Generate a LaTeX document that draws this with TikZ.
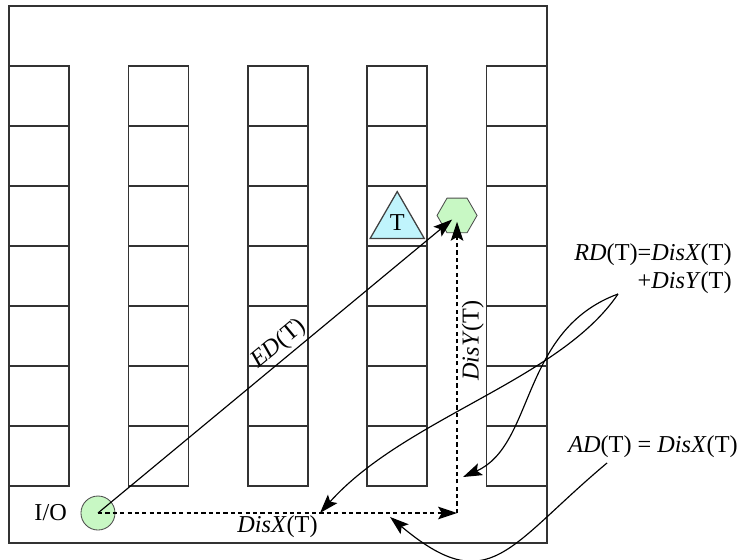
\documentclass[tikz,border=0pt]{standalone}
\usepackage{fontspec}
\setmainfont{Liberation Serif}
\usetikzlibrary{arrows.meta,shapes.geometric,positioning}
\definecolor{slotgreen}{RGB}{200,248,196}
\definecolor{taskcyan}{RGB}{192,244,252}
\tikzset{arrow/.style={draw,-{Stealth[length=9pt,width=6pt,inset=1.8pt]},line width=0.55pt,#1}}
\tikzset{arrow/.default={black}}
\tikzset{route/.style={arrow,dash pattern=on 2pt off 1.5pt}}
\tikzset{rack/.style={draw=black!80,line width=0.75pt}}
\tikzset{font={\fontsize{11.5pt}{13.3pt}\selectfont}}

\begin{document}
\begin{tikzpicture}
        \useasboundingbox (0,0) rectangle (12.283,9.333);
        \draw[rack,line width=0.9pt] (0.15,0.283) rectangle (9.11,9.233);
        \foreach \i in {0,...,4}{
            \foreach \j in {0,...,6}{
                \draw[rack] (0.15+1.99*\i, 1.233+\j) rectangle ++(1,1);
            }
        }
        \node[circle,draw=black!70,fill=slotgreen,minimum size=0.567cm,inner sep=0] (io) at (1.633,0.783) {};
        \node[left=3pt of io] (iolbl) {I/O};
        \node[regular polygon,regular polygon sides=3,draw=black!75,line width=0.6pt,fill=taskcyan,minimum size=1.04cm,inner sep=0] (task) at (6.62,5.62) {T};
        \node[regular polygon,regular polygon sides=6,draw=black!70,fill=slotgreen,minimum size=0.667cm,inner sep=0] (slot) at (7.617,5.742) {};
        \coordinate (bend) at (slot |- io);
        \path[draw,arrow,shorten >=3pt] (io.center) -- node[sloped,above,pos=0.53,inner sep=1.5pt] (edlbl) {\textit{ED}(T)} (slot.center);
        \path[draw,route] (io.center) -- node[below,inner sep=1pt] (disxlbl) {\textit{DisX}(T)} (bend);
        \path[draw,route,shorten >=3pt] (bend) -- node[sloped,below,pos=0.58,inner sep=2pt] (disylbl) {\textit{DisY}(T)} (slot.center);
        \node[align=right] (rdlbl) at (10.883,4.85) {\textit{RD}(T)=\textit{DisX}(T)\\+\textit{DisY}(T)};
        \node (adlbl) at (10.883,1.883) {\textit{AD}(T) = \textit{DisX}(T)};
        \coordinate (rdfoot) at (10.3,4.433);
        \coordinate (adfoot) at (10.117,1.617);
        \coordinate (ytip) at (7.717,1.383);
        \coordinate (xtip) at (5.333,0.783);
        \coordinate (adtip) at (6.5,0.717);
        \path[draw,arrow] (rdfoot) .. controls (8.667,3.833) and (8.917,1.917) .. (ytip);
        \path[draw,arrow] (rdfoot) .. controls (9.333,3.0) and (6.75,2.367) .. (xtip);
        \path[draw,arrow] (adfoot) .. controls (8.46,0.23) and (8.16,-0.67) .. (adtip);
    \end{tikzpicture}
\end{document}
